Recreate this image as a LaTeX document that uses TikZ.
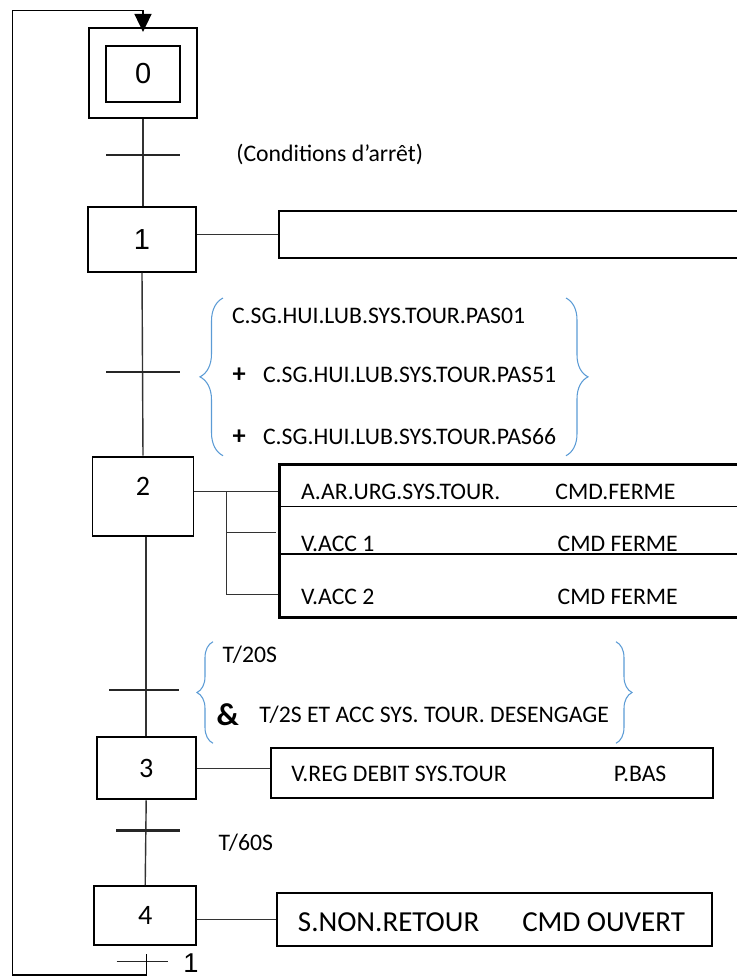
\documentclass[tikz,border=0pt]{standalone}
\usepackage{fontspec}
\setmainfont{Carlito}
\newfontfamily\arialfont{Liberation Sans}
\usetikzlibrary{arrows.meta,positioning,calc,decorations.pathreplacing}
\definecolor{accol}{HTML}{5B9BD5}

\begin{document}
\begin{tikzpicture}[x=0.2mm, y=-0.2mm,
    etape/.style={draw, line width=1.1pt, inner sep=0pt, font=\fontsize{16}{16}\selectfont},
    action/.style={draw, line width=1.1pt, inner sep=0pt},
    txt/.style={anchor=west, inner sep=0pt, font=\fontsize{13.5}{16}\selectfont},
    lien/.style={line width=0.8pt, black!80},
    recept/.style={line width=1.1pt, black!85},
    acc/.style={decorate, decoration={brace, amplitude=#1}, draw=accol, line width=0.6pt},
    arr/.style={-{Triangle[length=3.6mm, width=3.4mm]}, line width=0.8pt, shorten >=-1mm}
]
\useasboundingbox (0,0) rectangle (737,978);

% etapes
\node[etape, minimum width=21.6mm, minimum height=18mm] (S0) at (143,72.9) {};
\node[etape, minimum width=14.8mm, minimum height=11.2mm, font=\arialfont\fontsize{16.5}{16}\selectfont] (S0i) at (143.2,73.8) {0};
\node[etape, minimum width=21.7mm, minimum height=13mm, font=\arialfont\fontsize{16.5}{16}\selectfont] (S1) at (142,239.2) {1};
\node[etape, minimum width=20.2mm, minimum height=15.8mm, text depth=3.8mm] (S2) at (143,496.2) {2};
\node[etape, minimum width=19.8mm, minimum height=12.4mm] (S3) at (146.2,768.3) {3};
\node[etape, minimum width=20.4mm, minimum height=11.8mm] (S4) at (145.2,915.5) {4};

% actions
\node[action, minimum width=96.1mm, minimum height=9.5mm] (A1) at (519.7,234.5) {};
\node[action, line width=1.7pt, minimum width=96.1mm, minimum height=30.7mm] (A2) at (519.7,540.9) {};
\node[action, minimum width=88.5mm, minimum height=10.1mm] (A3) at (491.9,773) {};
\node[action, minimum width=87.1mm, minimum height=10.6mm] (A4) at (494.4,919.2) {};

\draw[line width=0.8pt] (A2.west |- 0,506.7) -- (A2.east |- 0,506.7);
\draw[line width=0.8pt] (A2.west |- 0,554) -- (A2.east |- 0,554);

\node[txt] (a2a) at (300.7,491.7) {A.AR.URG.SYS.TOUR.};
\node[txt] (a2b) at (555,491.7) {CMD.FERME};
\node[txt] (a2c) at (300.7,544) {V.ACC 1};
\node[txt] (a2d) at (557.3,544) {CMD FERME};
\node[txt] (a2e) at (300.7,597.3) {V.ACC 2};
\node[txt] (a2f) at (557.3,597.3) {CMD FERME};
\node[txt] (a3a) at (291,774) {V.REG DEBIT SYS.TOUR};
\node[txt] (a3b) at (613.5,774) {P.BAS};
\node[txt, font=\fontsize{16.5}{18}\selectfont] (a4a) at (297.6,921.7) {S.NON.RETOUR};
\node[txt, font=\fontsize{16.5}{18}\selectfont] (a4b) at (521.9,921.7) {CMD OUVERT};

% liaisons
\draw[lien] (S0.south) -- (S0.south |- S1.north);
\draw[lien] (S1.south) -- (S2.north);
\draw[lien] (S3.north |- S2.south) -- (S3.north);
\draw[lien] (S3.south) -- (S4.north);

\draw[lien] (S1.east |- A1.west) -- (A1.west);
\draw[lien] (S3.east) -- (S3.east -| A3.west);
\draw[lien] (A4.west -| S4.east) -- (A4.west);

\coordinate (b2) at (226.7,491.7);
\draw[lien] (S2.east |- b2) -- (b2 -| A2.west);
\draw[lien] (b2) |- (276,532.3);
\draw[lien] (b2) |- (A2.west |- 0,594.3);

% receptivites
\coordinate (t01) at (143.3,154.7);
\coordinate (t12) at (143.3,372);
\coordinate (t23) at (144.3,690);
\coordinate (t34) at (148,830.7);
\coordinate (t40) at (142.2,961.7);
\draw[recept] ([xshift=-7.4mm]t01) -- ([xshift=7.4mm]t01);
\draw[recept] ([xshift=-7.4mm]t12) -- ([xshift=7.4mm]t12);
\draw[recept] ([xshift=-7mm]t23) -- ([xshift=7mm]t23);
\draw[recept, line width=1.4pt] ([xshift=-6.4mm]t34) -- ([xshift=6.4mm]t34);
\draw[recept, line width=0.8pt] ([xshift=-5.1mm]t40) -- ([xshift=5.1mm]t40);

\node[txt] (c01) at (236,154) {(Conditions d’arrêt)};

\draw[acc=4.6mm] (223,455.7) -- (223,298);
\draw[acc=4.4mm] (566,298) -- (566,455.7);
\node[txt] (c12a) at (231.7,316) {C.SG.HUI.LUB.SYS.TOUR.PAS01};
\node[txt, anchor=center, font=\bfseries\fontsize{15}{16}\selectfont] (p1) at (239.3,375) {+};
\node[txt] (c12b) at (262.7,375) {C.SG.HUI.LUB.SYS.TOUR.PAS51};
\node[txt, anchor=center, font=\bfseries\fontsize{15}{16}\selectfont] (p2) at (239.3,436.7) {+};
\node[txt] (c12c) at (262.7,436.7) {C.SG.HUI.LUB.SYS.TOUR.PAS66};

\draw[acc=3.2mm] (213,743.3) -- (213,641.7);
\draw[acc=3.2mm] (616,641.7) -- (616,743.3);
\node[txt] (c23a) at (222.3,655) {T/20S};
\node[txt, anchor=center, font=\bfseries\fontsize{18}{18}\selectfont] (et) at (227.8,715) {\&};
\node[txt] (c23b) at (259,715) {T/2S ET ACC SYS. TOUR. DESENGAGE};

\node[txt] (c34) at (218.3,842.3) {T/60S};

% retour
\coordinate (ret) at (146.3,954);
\coordinate (bg) at (12.3,975);
\coordinate (hg) at (12.3,10.7);
\draw[arr] (ret) |- (bg) -- (hg) -| (S0.north);
\node[anchor=north west, inner sep=0pt, font=\arialfont\fontsize{15.5}{16}\selectfont] (r1) at (183,953) {1};
\end{tikzpicture}
\end{document}
